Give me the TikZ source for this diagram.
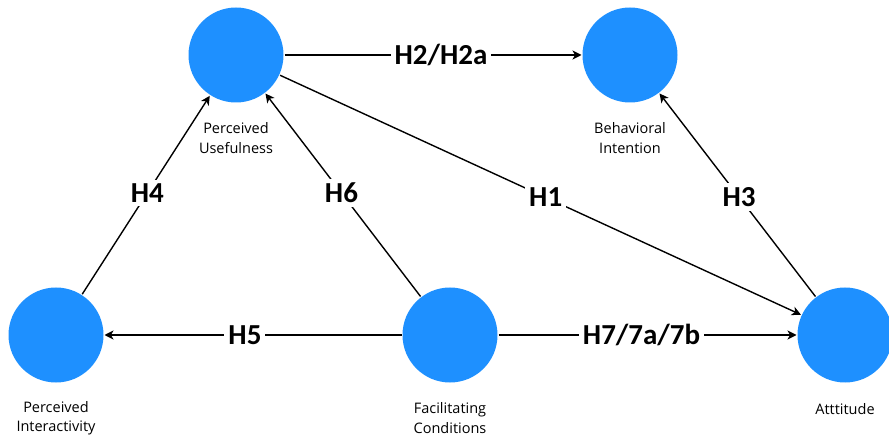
\documentclass[tikz,border=0pt]{standalone}
\usepackage{fontspec}
\setmainfont{Open Sans}
\newfontfamily\hypfont{Carlito}
\usetikzlibrary{arrows.meta}
\definecolor{nodeblue}{RGB}{30,144,255}
\begin{document}
\begin{tikzpicture}[x=1pt,y=-1pt,
  construct/.style={circle,fill=nodeblue,minimum size=95pt,inner sep=0pt,outer sep=1pt},
  caption/.style={font=\fontsize{14.5}{19.5}\selectfont,align=center,text=black},
  link/.style={line width=1.4pt,-{Stealth[length=9pt,width=9pt,inset=2.5pt]}},
  hyp/.style={fill=white,inner sep=4pt,font=\hypfont\bfseries\fontsize{29}{30}\selectfont}]
\useasboundingbox (0,0) rectangle (889,438);
\node[construct] (pu) at (236,55) {};
\node[construct] (bi) at (630,55) {};
\node[construct] (pi) at (56,335) {};
\node[construct] (fc) at (450,335) {};
\node[construct] (at) at (845,335) {};
\node[caption] (pul) at (236,138) {Perceived\\Usefulness};
\node[caption] (bil) at (630,138) {Behavioral\\Intention};
\node[caption] (pil) at (56,418) {Perceived\\Interactivity};
\node[caption] (fcl) at (450,418) {Facilitating\\Conditions};
\node[caption] (atl) at (845,409) {Atttitude};
\draw[link] (pu) -- node[hyp,pos=0.527] {H2/H2a} (bi);
\draw[link] (pu) -- node[hyp,pos=0.51] {H1} (at);
\draw[link] (at) -- node[hyp,pos=0.49] {H3} (bi);
\draw[link] (pi) -- node[hyp,pos=0.51] {H4} (pu);
\draw[link] (fc) -- node[hyp,pos=0.51] {H6} (pu);
\draw[link] (fc) -- node[hyp,pos=0.527] {H5} (pi);
\draw[link] (fc) -- node[hyp,pos=0.48] {H7/7a/7b} (at);
\end{tikzpicture}
\end{document}
